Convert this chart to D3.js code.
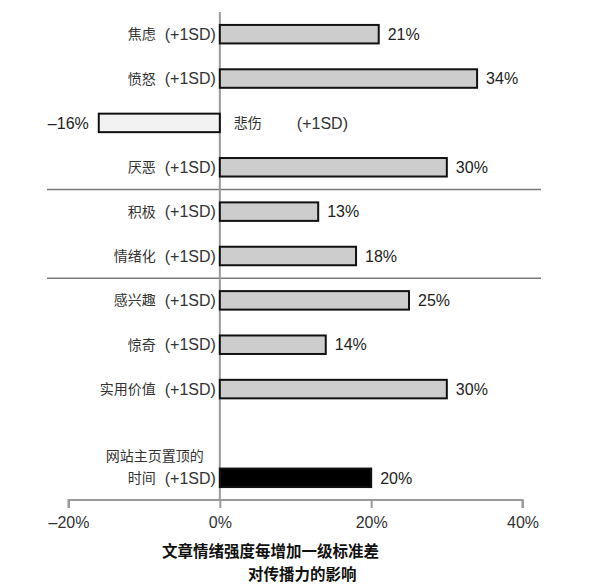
<!DOCTYPE html>
<html>
<head>
<meta charset="utf-8">
<script src="https://cdn.jsdelivr.net/npm/d3@7"></script>
<style>
  html, body { margin: 0; padding: 0; background: #ffffff; }
  svg { display: block; }
</style>
</head>
<body>
<svg id="chart" width="600" height="588"></svg>
<script>
// ---- data ----
const categories = ["焦虑", "愤怒", "悲伤", "厌恶", "积极", "情绪化", "感兴趣", "惊奇", "实用价值", "时间"];
const values = [21, 34, -16, 30, 13, 18, 25, 14, 30, 20];
const barKinds = ["emotion", "emotion", "emotion", "emotion", "emotion", "emotion", "content", "content", "content", "position"];
const sdLabel = "(+1SD)";
const extraLabel = "网站主页置顶的";
const rowOrder = ["焦虑", "愤怒", "悲伤", "厌恶", "积极", "情绪化", "感兴趣", "惊奇", "实用价值", "", "时间"];
const groupBreaks = [["厌恶", "积极"], ["情绪化", "感兴趣"]];
const xTicks = [-20, 0, 20, 40];
const titleLines = ["文章情绪强度每增加一级标准差", "对传播力的影响"];

// ---- layout ----
const svg = d3.select("#chart");
const x = d3.scaleLinear().domain([-20, 40]).range([68.5, 522.5]);
const y = d3.scalePoint().domain(rowOrder).range([12, 500]).padding(0.5);
const barH = 18.5;
const zero = x(0);
const axisY = 500;
const CJK = "'Noto Sans CJK SC', 'Noto Sans', sans-serif";
const LAT = "'Liberation Sans', Arial, sans-serif";

const data = categories.map((c, i) => ({ cat: c, v: values[i], kind: barKinds[i] }));

function fillFor(d) {
  if (d.kind === "position") return "#000000";
  if (d.v < 0) return "#f2f2f2";
  return "#cdcdcd";
}

// separator lines
svg.append("g").selectAll("line").data(groupBreaks).join("line")
  .attr("x1", 47).attr("x2", 541)
  .attr("y1", d => (y(d[0]) + y(d[1])) / 2)
  .attr("y2", d => (y(d[0]) + y(d[1])) / 2)
  .attr("stroke", "#7a7a7a").attr("stroke-width", 1.5);

// zero line
svg.append("line")
  .attr("x1", zero).attr("x2", zero)
  .attr("y1", 12).attr("y2", axisY)
  .attr("stroke", "#9a9a9a").attr("stroke-width", 2);

// bars
svg.append("g").selectAll("rect").data(data).join("rect")
  .attr("x", d => Math.min(x(d.v), zero))
  .attr("width", d => Math.abs(x(d.v) - zero))
  .attr("y", d => y(d.cat) - barH / 2)
  .attr("height", barH)
  .attr("fill", fillFor)
  .attr("stroke", "#111")
  .attr("stroke-width", 2);

// value labels
svg.append("g").selectAll("text").data(data).join("text")
  .attr("x", d => d.v >= 0 ? x(d.v) + 9 : x(d.v) - 10)
  .attr("y", d => y(d.cat))
  .attr("dy", "0.36em")
  .attr("text-anchor", d => d.v >= 0 ? "start" : "end")
  .attr("font-family", LAT).attr("font-size", 16).attr("fill", "#222")
  .text(d => (d.v < 0 ? "\u2013" + Math.abs(d.v) : d.v) + "%");

// category labels
const lab = svg.append("g");
data.forEach(d => {
  const cy = y(d.cat);
  if (d.v >= 0) {
    lab.append("text")
      .attr("x", zero - 64).attr("y", cy).attr("dy", "0.36em")
      .attr("text-anchor", "end")
      .attr("font-family", CJK).attr("font-size", 14).attr("fill", "#333")
      .text(d.cat);
    lab.append("text")
      .attr("x", zero - 4).attr("y", cy).attr("dy", "0.36em")
      .attr("text-anchor", "end")
      .attr("font-family", LAT).attr("font-size", 16).attr("fill", "#333")
      .text(sdLabel);
  } else {
    lab.append("text")
      .attr("x", zero + 14).attr("y", cy).attr("dy", "0.36em")
      .attr("text-anchor", "start")
      .attr("font-family", CJK).attr("font-size", 14).attr("fill", "#333")
      .text(d.cat);
    lab.append("text")
      .attr("x", zero + 77).attr("y", cy).attr("dy", "0.36em")
      .attr("text-anchor", "start")
      .attr("font-family", LAT).attr("font-size", 16).attr("fill", "#333")
      .text(sdLabel);
  }
  if (d.kind === "position") {
    lab.append("text")
      .attr("x", zero - 16).attr("y", cy - 22).attr("dy", "0.36em")
      .attr("text-anchor", "end")
      .attr("font-family", CJK).attr("font-size", 14).attr("fill", "#333")
      .text(extraLabel);
  }
});

// x axis
const axis = svg.append("g").attr("transform", `translate(0,${axisY})`)
  .call(d3.axisBottom(x).tickValues(xTicks).tickSize(8).tickPadding(9)
    .tickFormat(v => (v < 0 ? "\u2013" + Math.abs(v) : v) + "%"));
axis.select(".domain").attr("stroke", "#9a9a9a").attr("stroke-width", 2)
  .attr("d", `M${x(-20)},8V0H${x(40)}V8`);
axis.selectAll(".tick line").attr("stroke", "#9a9a9a").attr("stroke-width", 2);
axis.selectAll(".tick text").attr("font-family", LAT).attr("font-size", 16).attr("fill", "#333");

// title
svg.append("g").selectAll("text").data(titleLines).join("text")
  .attr("x", (d, i) => i === 0 ? 162 : 248)
  .attr("y", (d, i) => 551 + i * 23)
  .attr("dy", "0.36em")
  .attr("text-anchor", "start")
  .attr("font-family", CJK).attr("font-size", 15.5).attr("font-weight", "bold").attr("fill", "#111")
  .text(d => d);
</script>
</body>
</html>
